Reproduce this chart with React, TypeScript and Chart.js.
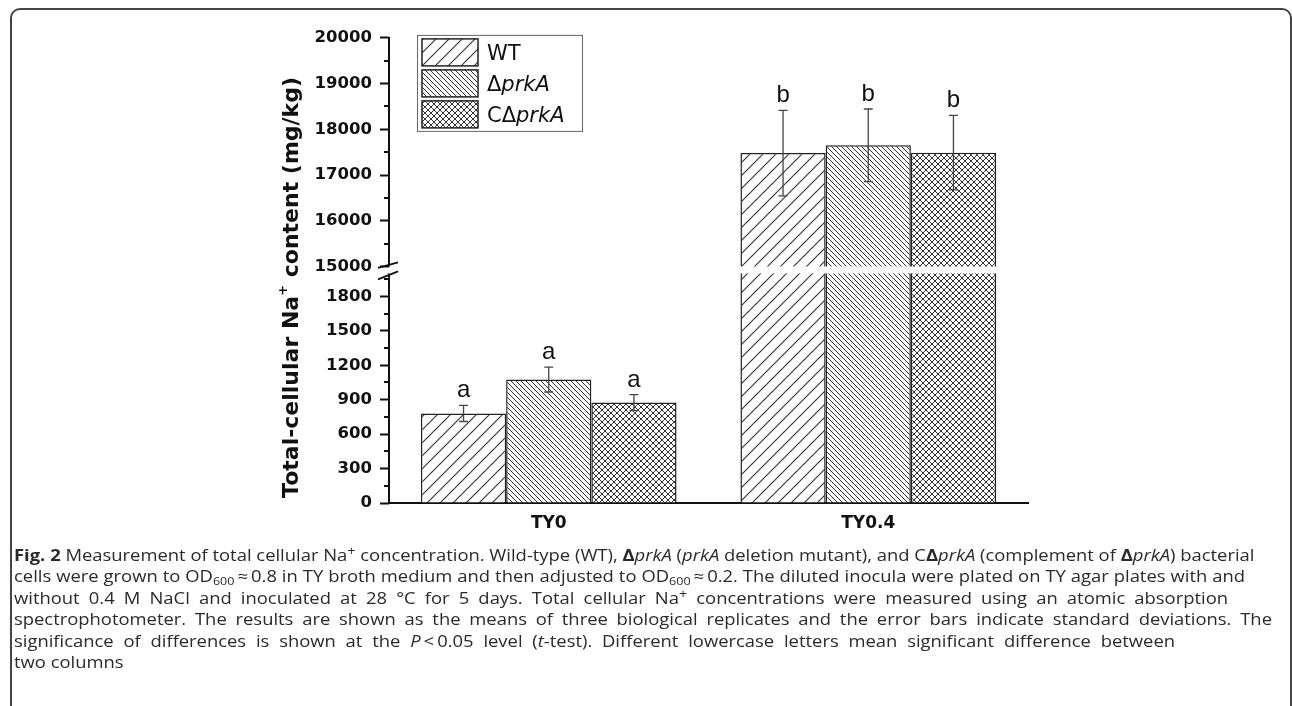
import React, { useEffect, useRef } from 'react';
import { Chart, registerables, LinearScale } from 'chart.js';

Chart.register(...registerables);

// ---------- data ----------
const categories = ['TY0', 'TY0.4'];
const seriesNames = ['WT', 'ΔprkA', 'CΔprkA'];
const wtMean = [780, 17480];
const wtSd = [70, 935];
const deltaMean = [1075, 17650];
const deltaSd = [108, 795];
const compMean = [875, 17490];
const compSd = [70, 815];
const wtLetters = ['a', 'b'];
const deltaLetters = ['a', 'b'];
const compLetters = ['a', 'b'];
const majorTicks = [0, 300, 600, 900, 1200, 1500, 1800, 15000, 16000, 17000, 18000, 19000, 20000];
const minorTicks = [150, 450, 750, 1050, 1350, 1650, 1950, 15500, 16500, 17500, 18500, 19500];
const axisMin = 0;
const axisMax = 20000;
const breakLow = 2000;
const breakHigh = 15000;
const yTitle = ['Total-cellular Na', '+', ' content (mg/kg)'];

// ---------- broken axis geometry (fractions of the axis length) ----------
const LOWER_FRAC = 0.4936;
const GAP_FRAC = 0.015;

function toDecimal(v: number, min: number, max: number): number {
  if (v <= breakLow) return ((v - min) / (breakLow - min)) * LOWER_FRAC;
  if (v >= breakHigh)
    return LOWER_FRAC + GAP_FRAC + ((v - breakHigh) / (max - breakHigh)) * (1 - LOWER_FRAC - GAP_FRAC);
  return LOWER_FRAC + ((v - breakLow) / (breakHigh - breakLow)) * GAP_FRAC;
}
function fromDecimal(d: number, min: number, max: number): number {
  if (d <= LOWER_FRAC) return min + (d / LOWER_FRAC) * (breakLow - min);
  if (d >= LOWER_FRAC + GAP_FRAC)
    return breakHigh + ((d - LOWER_FRAC - GAP_FRAC) / (1 - LOWER_FRAC - GAP_FRAC)) * (max - breakHigh);
  return breakLow + ((d - LOWER_FRAC) / GAP_FRAC) * (breakHigh - breakLow);
}

class BrokenLinearScale extends (LinearScale as any) {
  static id = 'brokenLinear';
  static defaults = (LinearScale as any).defaults;
  getPixelForValue(value: any) {
    if (value === null || value === undefined || Number.isNaN(value)) return NaN;
    return (this as any).getPixelForDecimal(toDecimal(+value, (this as any).min, (this as any).max));
  }
  getValueForPixel(pixel: number) {
    return fromDecimal((this as any).getDecimalForPixel(pixel), (this as any).min, (this as any).max);
  }
}
Chart.register(BrokenLinearScale as any);

function makePattern(size: number, kinds: string[], lw: number, color: string) {
  const c = document.createElement('canvas');
  c.width = size;
  c.height = size;
  const g = c.getContext('2d')!;
  g.fillStyle = '#ffffff';
  g.fillRect(0, 0, size, size);
  g.strokeStyle = color;
  g.lineWidth = lw;
  for (const k of kinds) {
    g.beginPath();
    if (k === 'fwd') {
      g.moveTo(0, size); g.lineTo(size, 0);
      g.moveTo(-1, 1); g.lineTo(1, -1);
      g.moveTo(size - 1, size + 1); g.lineTo(size + 1, size - 1);
    } else {
      g.moveTo(0, 0); g.lineTo(size, size);
      g.moveTo(-1, size - 1); g.lineTo(1, size + 1);
      g.moveTo(size - 1, -1); g.lineTo(size + 1, 1);
    }
    g.stroke();
  }
  return g.createPattern(c, 'repeat')!;
}

const sdArrays = [wtSd, deltaSd, compSd];
const letterArrays = [wtLetters, deltaLetters, compLetters];

const decorPlugin = {
  id: 'decor',
  afterDatasetsDraw(chart: any) {
    const { ctx, chartArea } = chart;
    const y = chart.scales.y;
    // white gap of the broken axis across the bars
    const g1 = y.getPixelForValue(breakHigh);
    const g2 = y.getPixelForValue(breakLow);
    ctx.save();
    ctx.fillStyle = '#ffffff';
    ctx.fillRect(chartArea.left + 2, g1, chartArea.right - chartArea.left, g2 - g1);
    // error bars + letters
    chart.data.datasets.forEach((ds: any, i: number) => {
      const meta = chart.getDatasetMeta(i);
      meta.data.forEach((bar: any, j: number) => {
        const m = ds.data[j];
        const sd = sdArrays[i][j];
        const yt = y.getPixelForValue(m + sd);
        const yb = y.getPixelForValue(m - sd);
        const x = bar.x;
        ctx.strokeStyle = '#444';
        ctx.lineWidth = 1.3;
        ctx.beginPath();
        ctx.moveTo(x, yt); ctx.lineTo(x, yb);
        ctx.moveTo(x - 4.5, yt); ctx.lineTo(x + 4.5, yt);
        ctx.moveTo(x - 4.5, yb); ctx.lineTo(x + 4.5, yb);
        ctx.stroke();
        ctx.fillStyle = '#111';
        ctx.font = '24px "Liberation Sans", Arial, sans-serif';
        ctx.textAlign = 'center';
        ctx.textBaseline = 'alphabetic';
        ctx.fillText(letterArrays[i][j], x, yt - 8);
      });
    });
    ctx.restore();
  },
  afterDraw(chart: any) {
    const { ctx, chartArea } = chart;
    const y = chart.scales.y;
    const ax = chartArea.left;
    const pHigh = y.getPixelForValue(breakHigh);
    const pLow = y.getPixelForValue(breakLow);
    ctx.save();
    // y axis line with break
    ctx.strokeStyle = '#111';
    ctx.lineWidth = 2;
    ctx.beginPath();
    ctx.moveTo(ax, chartArea.top - 1); ctx.lineTo(ax, pHigh);
    ctx.moveTo(ax, pLow); ctx.lineTo(ax, chartArea.bottom + 1);
    ctx.stroke();
    // break marks
    ctx.lineWidth = 1.8;
    ctx.beginPath();
    ctx.moveTo(ax - 11, pHigh + 1.5); ctx.lineTo(ax + 9, pHigh - 4);
    ctx.moveTo(ax - 11, pLow + 6); ctx.lineTo(ax + 9, pLow - 2);
    ctx.stroke();
    // minor ticks
    ctx.lineWidth = 2;
    ctx.beginPath();
    minorTicks.forEach((v) => {
      const p = Math.round(y.getPixelForValue(v));
      ctx.moveTo(ax - 5, p); ctx.lineTo(ax, p);
    });
    ctx.stroke();

    // y title with superscript
    const bold = (s: number) => `bold ${s}px "DejaVu Sans", sans-serif`;
    ctx.fillStyle = '#111';
    ctx.font = bold(22);
    const w0 = ctx.measureText(yTitle[0]).width;
    const w2 = ctx.measureText(yTitle[2]).width;
    ctx.font = bold(13);
    const w1 = ctx.measureText(yTitle[1]).width;
    const total = w0 + w1 + w2;
    const cx = ax - 97;
    const cy = (chartArea.top + chartArea.bottom) / 2 + 17;
    ctx.translate(cx, cy);
    ctx.rotate(-Math.PI / 2);
    ctx.textAlign = 'left';
    ctx.textBaseline = 'middle';
    let x0 = -total / 2;
    ctx.font = bold(22);
    ctx.fillText(yTitle[0], x0, 0);
    x0 += w0;
    ctx.font = bold(13);
    ctx.fillText(yTitle[1], x0, -8);
    x0 += w1;
    ctx.font = bold(22);
    ctx.fillText(yTitle[2], x0, 0);
    ctx.setTransform(1, 0, 0, 1, 0, 0);

    // legend
    const lx = ax + 28;
    const ly = chartArea.top - 3;
    const lw = 165;
    const lh = 96;
    ctx.fillStyle = '#fff';
    ctx.fillRect(lx, ly, lw, lh);
    ctx.strokeStyle = '#666';
    ctx.lineWidth = 1;
    ctx.strokeRect(lx + 0.5, ly + 0.5, lw, lh);
    chart.data.datasets.forEach((ds: any, i: number) => {
      const sx = lx + 5;
      const sy = ly + 4 + i * 31;
      ctx.fillStyle = ds.backgroundColor;
      ctx.fillRect(sx, sy, 56, 27);
      ctx.strokeStyle = '#222';
      ctx.lineWidth = 1.5;
      ctx.strokeRect(sx, sy, 56, 27);
      const label: string = ds.label;
      const k = label.indexOf('prkA');
      const plain = k >= 0 ? label.slice(0, k) : label;
      const ital = k >= 0 ? label.slice(k) : '';
      const tx = lx + 70;
      const ty = sy + 13.5 + 7.6;
      ctx.fillStyle = '#111';
      ctx.textBaseline = 'alphabetic';
      ctx.font = '21px "DejaVu Sans", sans-serif';
      ctx.fillText(plain, tx, ty);
      const pw = ctx.measureText(plain).width;
      ctx.font = 'italic 21px "DejaVu Sans", sans-serif';
      ctx.fillText(ital, tx + pw, ty);
    });
    ctx.restore();
  },
};

export default function App() {
  const ref = useRef<HTMLCanvasElement>(null);
  useEffect(() => {
    const canvas = ref.current!;
    const patWT = makePattern(13, ['fwd'], 1.1, '#333');
    const patDel = makePattern(5, ['back'], 1.0, '#333');
    const patComp = makePattern(6, ['fwd', 'back'], 1.0, '#333');
    const pats = [patWT, patDel, patComp];
    const means = [wtMean, deltaMean, compMean];
    const chart = new Chart(canvas, {
      type: 'bar',
      data: {
        labels: categories,
        datasets: seriesNames.map((name, i) => ({
          label: name,
          data: means[i],
          backgroundColor: pats[i] as any,
          borderColor: '#222',
          borderWidth: 1.5,
          categoryPercentage: 0.8,
          barPercentage: 1.0,
        })),
      },
      options: {
        responsive: false,
        animation: false,
        events: [],
        layout: { padding: { left: 0, top: 15, right: 32, bottom: 0 } },
        plugins: { legend: { display: false }, tooltip: { enabled: false } },
        scales: {
          x: {
            type: 'category',
            grid: { display: false, drawTicks: false },
            border: { display: true, color: '#111', width: 2 },
            ticks: {
              color: '#111',
              padding: 10,
              font: { family: '"DejaVu Sans", sans-serif', weight: 'bold', size: 17 },
            },
            afterFit: (s: any) => { s.height = 47; },
          },
          y: {
            type: 'brokenLinear' as any,
            min: axisMin,
            max: axisMax,
            afterBuildTicks: (s: any) => { s.ticks = majorTicks.map((v) => ({ value: v })); },
            ticks: {
              autoSkip: false,
              color: '#111',
              padding: 8,
              font: { family: '"DejaVu Sans", sans-serif', weight: 'bold', size: 16.5 },
              callback: (v: any) => String(v),
            },
            grid: { display: true, drawOnChartArea: false, drawTicks: true, tickLength: 9, tickWidth: 2, tickColor: '#111' },
            border: { display: false },
            afterFit: (s: any) => { s.width = 129; },
          } as any,
        },
      },
      plugins: [decorPlugin],
    } as any);
    return () => chart.destroy();
  }, []);

  const SX = 1.15;
  const supS: React.CSSProperties = { fontSize: '0.78em', verticalAlign: '0.5em', lineHeight: 0 };
  const subS: React.CSSProperties = { fontSize: '0.68em', verticalAlign: '-0.25em', lineHeight: 0 };
  const line = (w: number, justify: boolean): React.CSSProperties => ({
    width: w / SX,
    whiteSpace: 'nowrap',
    textAlign: justify ? 'justify' : 'left',
    textAlignLast: justify ? 'justify' : 'left',
    height: 21.4,
  } as any);
  const D = <b>Δ</b>;
  const thin = '\u2009';

  return (
    <div style={{ position: 'absolute', left: 0, top: 0, width: 1292, height: 706, overflow: 'hidden', background: '#fff' }}>
      <div
        style={{
          position: 'absolute', left: 10, top: 8, width: 1282, height: 800,
          border: '2px solid #444', borderRadius: 10, boxSizing: 'border-box',
        }}
      />
      <canvas
        ref={ref}
        width={800}
        height={530}
        style={{ position: 'absolute', left: 260, top: 20, width: 800, height: 530 }}
      />
      <div
        style={{
          position: 'absolute', left: 14, top: 545,
          transform: `scaleX(${SX})`, transformOrigin: '0 0',
          fontFamily: '"Open Sans", sans-serif', fontSize: 16, lineHeight: '21.4px', color: '#2a2a2a',
        }}
      >
        <div style={line(1236, true)}>
          <b>Fig. 2</b> Measurement of total cellular Na<sup style={supS}>+</sup> concentration. Wild-type (WT), {D}<i>prkA</i> (<i>prkA</i> deletion mutant), and C{D}<i>prkA</i> (complement of {D}<i>prkA</i>) bacterial
        </div>
        <div style={line(1231, true)}>
          cells were grown to OD<sub style={subS}>600</sub>{thin}≈{thin}0.8 in TY broth medium and then adjusted to OD<sub style={subS}>600</sub>{thin}≈{thin}0.2. The diluted inocula were plated on TY agar plates with and
        </div>
        <div style={line(1214, true)}>
          without 0.4 M NaCl and inoculated at 28 °C for 5 days. Total cellular Na<sup style={supS}>+</sup> concentrations were measured using an atomic absorption
        </div>
        <div style={line(1258, true)}>
          spectrophotometer. The results are shown as the means of three biological replicates and the error bars indicate standard deviations. The
        </div>
        <div style={line(1161, true)}>
          significance of differences is shown at the <i>P</i>{thin}&lt;{thin}0.05 level (<i>t</i>-test). Different lowercase letters mean significant difference between
        </div>
        <div style={line(1200, false)}>two columns</div>
      </div>
    </div>
  );
}
